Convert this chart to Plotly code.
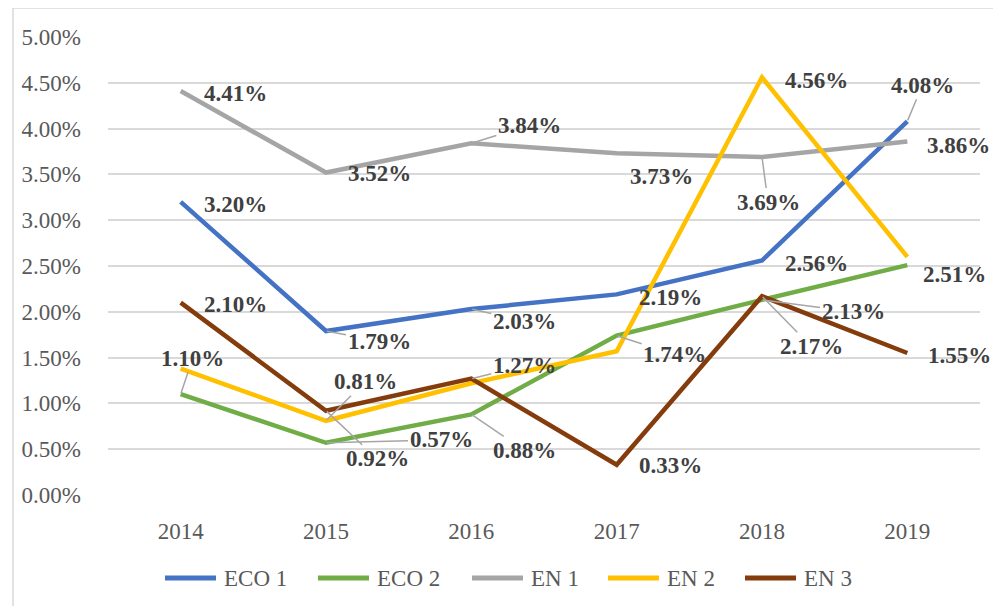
import plotly.graph_objects as go

years = ["2014", "2015", "2016", "2017", "2018", "2019"]
series_names = ["ECO 1", "ECO 2", "EN 1", "EN 2", "EN 3"]
eco1 = [3.20, 1.79, 2.03, 2.19, 2.56, 4.08]
eco2 = [1.10, 0.57, 0.88, 1.74, 2.13, 2.51]
en1 = [4.41, 3.52, 3.84, 3.73, 3.69, 3.86]
en2 = [1.38, 0.81, 1.22, 1.57, 4.56, 2.60]
en3 = [2.10, 0.92, 1.27, 0.33, 2.17, 1.55]
colors = ["#4472C4", "#70AD47", "#A5A5A5", "#FFC000", "#843C0C"]
y_ticks = [0, 0.5, 1.0, 1.5, 2.0, 2.5, 3.0, 3.5, 4.0, 4.5, 5.0]
y_tick_text = [f"{t:.2f}%" for t in y_ticks]

data = {"ECO 1": eco1, "ECO 2": eco2, "EN 1": en1, "EN 2": en2, "EN 3": en3}

# (series, index, dx px, dy px, leader line)
labels = [
    ("EN 1", 0, 55, 2, False), ("EN 1", 1, 53, 1, False), ("EN 1", 2, 58, -18, True),
    ("EN 1", 3, 45, 23, False), ("EN 1", 4, 6, 45, True), ("EN 1", 5, 51, 4, False),
    ("ECO 1", 0, 55, 3, False), ("ECO 1", 1, 53, 10, True), ("ECO 1", 2, 53, 12, True),
    ("ECO 1", 3, 54, 3, False), ("ECO 1", 4, 54, 3, False), ("ECO 1", 5, 15, -36, True),
    ("ECO 2", 0, 12, -36, True), ("ECO 2", 1, 115, -3, True), ("ECO 2", 2, 53, 36, True),
    ("ECO 2", 3, 58, 19, True), ("ECO 2", 4, 91, 12, True), ("ECO 2", 5, 47, 9, False),
    ("EN 2", 1, 39, -39, True), ("EN 2", 4, 54, 3, False),
    ("EN 3", 0, 55, 2, False), ("EN 3", 1, 51, 48, True), ("EN 3", 2, 53, -13, True),
    ("EN 3", 3, 54, 1, False), ("EN 3", 4, 49, 50, True), ("EN 3", 5, 52, 2, False),
]

# manual legend: left pixel of each swatch (reference layout)
legend_x = [163, 316, 470, 606, 743]
LEG_Y = 578
SWATCH = 55

FONT = "Liberation Serif"
FS = 23

fig = go.Figure()
for name, col in zip(series_names, colors):
    fig.add_trace(go.Scatter(
        x=years, y=data[name], name=name, mode="lines",
        line=dict(color=col, width=4.5),
        hoverinfo="skip", showlegend=False,
    ))

for name, i, dx, dy, leader in labels:
    v = data[name][i]
    fig.add_annotation(
        x=i, y=v, xref="x", yref="y",
        text=f"<b>{v:.2f}%</b>",
        showarrow=True, ax=dx, ay=dy,
        arrowhead=0, arrowwidth=1.5, standoff=1,
        arrowcolor="#A6A6A6" if leader else "rgba(255,255,255,0)",
        font=dict(family=FONT, size=FS, color="#404040"),
    )

# page body has an 8px margin; shrink the figure so the page fits the window
OFF = 8
W, H = 1001 - 2 * OFF, 614 - 2 * OFF
L, R, T = 108 - OFF, 21 - OFF, 37 - OFF
PH = 458
B = H - T - PH
PW = W - L - R


def px2x(px):
    return (px - 108) / PW


def py2y(py):
    return (495 - py) / PH


fig.add_shape(type="rect", xref="paper", yref="paper",
              x0=px2x(13), x1=px2x(998), y0=py2y(640), y1=py2y(8),
              line=dict(color="#D9D9D9", width=1.5), fillcolor="rgba(0,0,0,0)",
              layer="below")

for name, col, lx in zip(series_names, colors, legend_x):
    fig.add_shape(type="line", xref="paper", yref="paper",
                  x0=px2x(lx + 2), x1=px2x(lx + SWATCH - 2), y0=py2y(LEG_Y), y1=py2y(LEG_Y),
                  line=dict(color=col, width=5))
    fig.add_annotation(xref="paper", yref="paper", x=px2x(lx + SWATCH + 4), y=py2y(LEG_Y),
                       xanchor="left", yanchor="middle", showarrow=False, text=name,
                       font=dict(family=FONT, size=FS, color="#595959"))

fig.update_layout(
    width=W, height=H,
    margin=dict(l=L, r=R, t=T, b=B, pad=0),
    paper_bgcolor="white", plot_bgcolor="white",
    font=dict(family=FONT, size=FS, color="#595959"),
    showlegend=False,
    xaxis=dict(type="category", range=[-0.5, 5.5], showgrid=False, zeroline=False,
               showline=False, ticks="", ticklabelstandoff=20,
               tickfont=dict(family=FONT, size=FS, color="#595959")),
    yaxis=dict(range=[0, 5], tickmode="array", tickvals=y_ticks, ticktext=y_tick_text,
               showgrid=True, gridcolor="#D9D9D9", gridwidth=1.5,
               zeroline=False, showline=False, ticks="", ticklabelstandoff=26,
               tickfont=dict(family=FONT, size=FS, color="#595959")),
)

fig.write_html("out.html")
